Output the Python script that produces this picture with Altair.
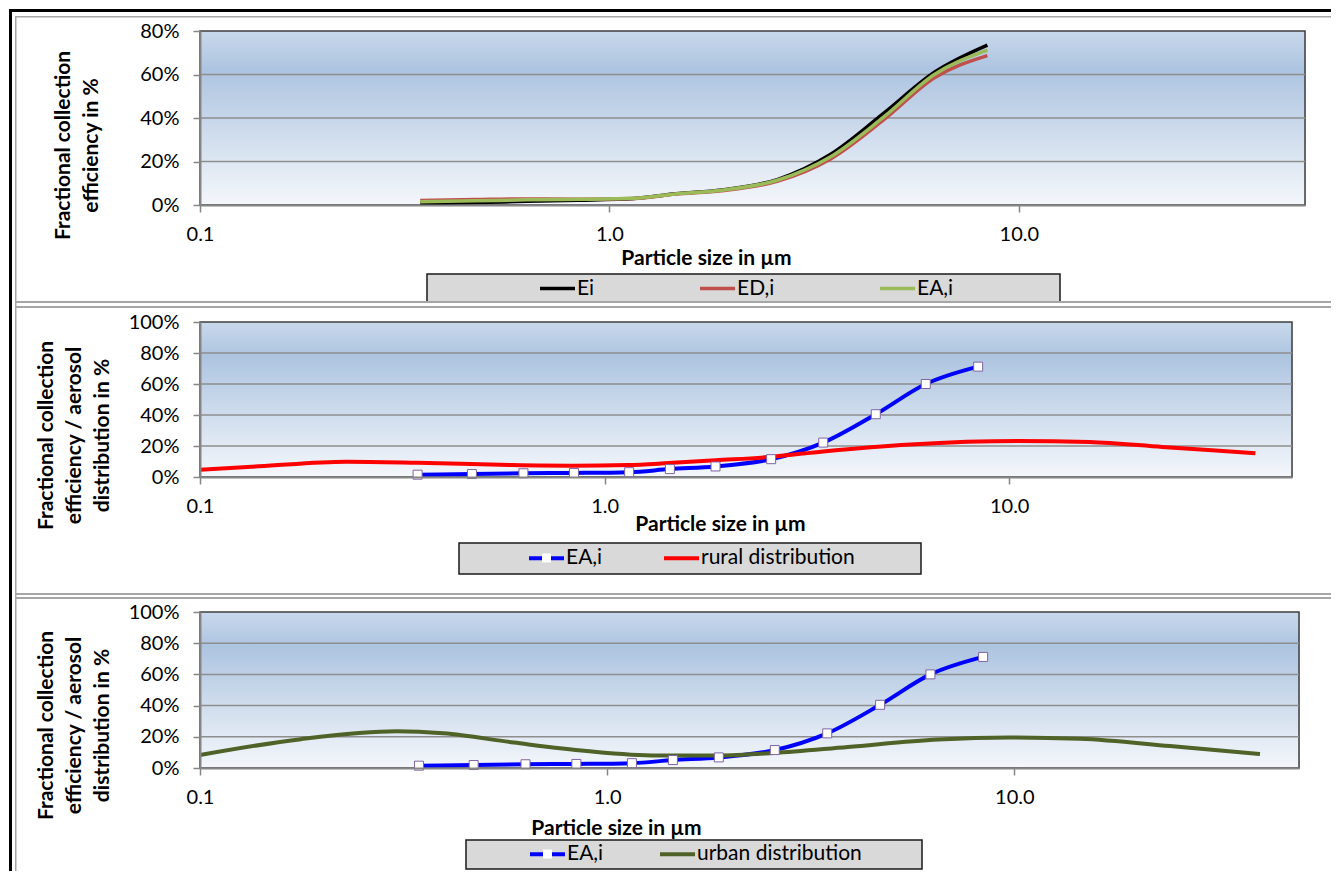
import altair as alt
import pandas as pd

FONT = "Lato"

# ---------------- data ----------------
size_pts = [0.345, 0.47, 0.63, 0.84, 1.15, 1.45, 1.88, 2.58, 3.47, 4.68, 6.22, 8.38]
e_i = [0.7, 1.1, 1.7, 2.2, 3.0, 5.2, 6.9, 11.8, 23.3, 42.2, 61.0, 73.5]
ed_i = [2.1, 2.5, 2.8, 2.7, 3.0, 5.0, 6.6, 11.0, 21.2, 39.2, 58.5, 68.7]
ea_i = [1.5, 1.9, 2.4, 2.6, 3.1, 5.1, 6.8, 11.5, 22.2, 40.5, 60.0, 71.2]

rural_size = [0.1, 0.14, 0.23, 0.345, 0.59, 0.83, 1.14, 1.44, 1.88, 2.58, 3.47, 5.7, 10.5, 15.8, 23.9, 40.6]
rural_pct = [4.7, 6.9, 9.9, 9.2, 7.7, 7.3, 7.7, 9.0, 10.8, 13.0, 16.5, 21.0, 23.2, 22.6, 19.4, 15.3]

urban_size = [0.1, 0.177, 0.305, 0.396, 0.59, 0.89, 1.33, 1.87, 2.56, 3.9, 6.5, 9.7, 14.5, 24.1, 40.1]
urban_pct = [8.3, 18.5, 23.5, 22.2, 16.3, 10.9, 8.0, 8.0, 9.6, 13.5, 18.3, 19.6, 18.7, 14.1, 8.9]

x_ticks = [0.1, 1, 10]
y_ticks_1 = [0, 20, 40, 60, 80]
y_ticks_2 = [0, 20, 40, 60, 80, 100]

names_1 = ["Ei", "ED,i", "EA,i"]
colors_1 = ["#000000", "#c0504d", "#9bbb59"]
names_2 = ["EA,i", "rural distribution"]
colors_2 = ["#0000ff", "#ff0000"]
names_3 = ["EA,i", "urban distribution"]
colors_3 = ["#0000ff", "#4f6228"]

title_1 = ["Fractional collection", "efficiency in %"]
title_23 = ["Fractional collection", "efficiency / aerosol", "distribution in %"]
x_title = "Particle size in µm"


def frame(sizes, values, name):
    return pd.DataFrame({"size": sizes, "pct": values, "series": name})


df1 = pd.concat([frame(size_pts, e_i, names_1[0]), frame(size_pts, ed_i, names_1[1]),
                 frame(size_pts, ea_i, names_1[2])], ignore_index=True)
df2 = pd.concat([frame(size_pts, ea_i, names_2[0]), frame(rural_size, rural_pct, names_2[1])],
                ignore_index=True)
df3 = pd.concat([frame(size_pts, ea_i, names_3[0]), frame(urban_size, urban_pct, names_3[1])],
                ignore_index=True)
df_marks = frame(size_pts, ea_i, "EA,i")
df_marks["mk"] = "marker"

dummy = pd.DataFrame({"d": [0]})

GRAD = alt.LinearGradient(
    gradient="linear", x1=0, x2=0, y1=0, y2=1,
    stops=[alt.GradientStop(color="#c9d9ec", offset=0),
           alt.GradientStop(color="#adc4e0", offset=0.22),
           alt.GradientStop(color="#f4f7fb", offset=1)])

ORIGIN_X = 199  # page x of the plot's left edge
LABEL_FS = 20
TITLE_FS = 21
LEGEND_FS = 21
GRAY = "#a6a6a6"
BLACK = "#000000"


def rect(x0, x1, y0, y1, color, top):
    # decoration given in page coordinates, converted to plot-relative pixels
    return alt.Chart(dummy).mark_rect(color=color).encode(
        x=alt.value(x0 - ORIGIN_X), x2=alt.value(x1 - ORIGIN_X),
        y=alt.value(y0 - top), y2=alt.value(y1 - top))


def panel(df, names, colors, W, H, top, ymax, yticks, ytitle, ytitle_x, ytitle_y,
          xtitle_x, xtitle_y, box, entries_x, entries_cy, col_pad, line_w, deco,
          markers=False):
    xs = alt.Scale(type="log", domain=[0.1, 50], nice=False)
    ys = alt.Scale(domain=[0, ymax], nice=False, zero=True)
    xaxis = alt.Axis(values=x_ticks, format=".1f", title=x_title, titleFont=FONT,
                     titleFontSize=TITLE_FS, titleFontWeight="bold", titleColor="black",
                     titleX=xtitle_x, titleY=xtitle_y, titleAlign="center",
                     titleBaseline="middle", labelFont=FONT, labelFontSize=LABEL_FS,
                     labelColor="black", labelPadding=12, labelFlush=False,
                     labelOverlap=False, tickSize=7, tickColor="#868686", tickWidth=1.5,
                     domainColor="#868686", domainWidth=2, grid=False, zindex=1)
    yaxis = alt.Axis(values=yticks, labelExpr="datum.value + '%'", title=ytitle,
                     titleFont=FONT, titleFontSize=TITLE_FS, titleFontWeight="bold",
                     titleColor="black", titleAngle=270, titleX=ytitle_x, titleY=ytitle_y,
                     titleAlign="center", titleBaseline="bottom", titleLineHeight=28,
                     labelFont=FONT, labelFontSize=LABEL_FS, labelColor="black",
                     labelPadding=14, labelFlush=False, labelOverlap=False, tickSize=7,
                     tickColor="#868686", tickWidth=1.5, domainColor="#868686",
                     domainWidth=2, grid=False, zindex=1)

    bg = alt.Chart(dummy).mark_rect(fill=GRAD, stroke="#3f3f3f", strokeWidth=1.5).encode(
        x=alt.value(0), x2=alt.value(W), y=alt.value(0), y2=alt.value(H))

    grid_df = pd.DataFrame({"pct": yticks[1:-1]})
    grid = alt.Chart(grid_df).mark_rule(color="#8e8e8e", strokeWidth=1.5).encode(
        y=alt.Y("pct:Q", scale=ys, axis=yaxis), x=alt.value(0), x2=alt.value(W))

    sym_w = 35
    entry_h = sym_w + line_w
    legend = alt.Legend(orient="none", legendX=entries_x - ORIGIN_X,
                        legendY=entries_cy - top - entry_h / 2, direction="horizontal",
                        title=None, symbolType="stroke", symbolSize=sym_w * sym_w,
                        symbolStrokeWidth=line_w, labelFont=FONT, labelFontSize=LEGEND_FS,
                        labelColor="black", labelOffset=0, columnPadding=col_pad,
                        padding=0, labelLimit=500)
    lines = alt.Chart(df).mark_line(strokeWidth=line_w, interpolate="monotone").encode(
        x=alt.X("size:Q", scale=xs, axis=xaxis),
        y=alt.Y("pct:Q", scale=ys, axis=yaxis),
        color=alt.Color("series:N", scale=alt.Scale(domain=names, range=colors),
                        legend=legend),
        detail="series:N")

    layers = [bg, grid, lines]
    if markers:
        mk_legend = alt.Legend(orient="none",
                               legendX=entries_x - ORIGIN_X + entry_h / 2 - 5,
                               legendY=entries_cy - top - 5, title=None,
                               symbolSize=81, symbolStrokeWidth=1,
                               symbolFillColor="white", symbolStrokeColor="#8064a2",
                               labelExpr="''", padding=0, labelOffset=0, zindex=2)
        pts = alt.Chart(df_marks).mark_point(filled=True, fill="white", stroke="#8064a2",
                                             strokeWidth=1, size=81, opacity=1).encode(
            x=alt.X("size:Q", scale=xs, axis=xaxis),
            y=alt.Y("pct:Q", scale=ys, axis=yaxis),
            shape=alt.Shape("mk:N", scale=alt.Scale(domain=["marker"], range=["square"]),
                            legend=mk_legend))
        layers.append(pts)

    # legend box
    layers.append(alt.Chart(dummy).mark_rect(fill="#d9d9d9", stroke="#1a1a1a",
                                             strokeWidth=1.5).encode(
        x=alt.value(box[0] - ORIGIN_X), x2=alt.value(box[1] - ORIGIN_X),
        y=alt.value(box[2] - top), y2=alt.value(box[3] - top)))

    # chart-area frame pieces (page coordinates)
    for (x0, x1, y0, y1, c) in deco:
        layers.append(rect(x0, x1, y0, y1, c, top))
    return alt.layer(*layers).properties(width=W, height=H)


deco_1 = [(8, 1330, 8, 11, BLACK), (14, 1330, 15, 16.5, GRAY), (14, 15.5, 15, 307, GRAY),
          (14, 1330, 300, 302, GRAY), (14, 1330, 305, 307, GRAY), (8, 11, 8, 307, BLACK)]
deco_2 = [(14, 15.5, 307, 599, GRAY), (14, 1330, 593, 595, GRAY),
          (14, 1330, 597, 599, GRAY), (8, 11, 307, 599, BLACK)]
deco_3 = [(14, 15.5, 599, 872, GRAY), (8, 11, 599, 872, BLACK)]

p1 = panel(df1, names_1, colors_1, W=1105, H=174, top=30, ymax=80, yticks=y_ticks_1,
           ytitle=title_1, ytitle_x=-127, ytitle_y=114, xtitle_x=506, xtitle_y=53,
           box=(426, 1059, 273, 301), entries_x=537, entries_cy=287, col_pad=98,
           line_w=3.5, deco=deco_1)

p2 = panel(df2, names_2, colors_2, W=1092, H=155, top=322, ymax=100, yticks=y_ticks_2,
           ytitle=title_23, ytitle_x=-144, ytitle_y=113, xtitle_x=520, xtitle_y=47,
           box=(458, 920, 543, 574), entries_x=526, entries_cy=558, col_pad=53,
           line_w=4, deco=deco_2, markers=True)

p3 = panel(df3, names_3, colors_3, W=1099, H=156, top=613, ymax=100, yticks=y_ticks_2,
           ytitle=title_23, ytitle_x=-144, ytitle_y=113, xtitle_x=416, xtitle_y=60,
           box=(465, 921, 841, 870), entries_x=527, entries_cy=855, col_pad=48,
           line_w=4, deco=deco_3, markers=True)

chart = alt.vconcat(p1, p2, p3, spacing=-3, padding=0).resolve_scale(
    color="independent", shape="independent").resolve_legend(
    color="independent", shape="independent").configure_view(
    stroke=None).configure(background="white")

chart.save("out.html", embed_options={"renderer": "svg", "actions": False})
